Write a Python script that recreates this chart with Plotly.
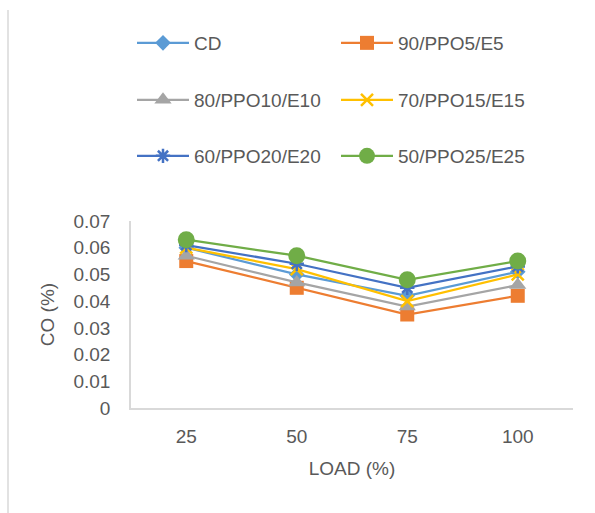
import plotly.graph_objects as go

# Engine load categories and CO emissions (%) for each fuel blend
load = ["25", "50", "75", "100"]
cd = [0.060, 0.050, 0.042, 0.051]
b90_ppo5_e5 = [0.055, 0.045, 0.035, 0.042]
b80_ppo10_e10 = [0.057, 0.047, 0.038, 0.046]
b70_ppo15_e15 = [0.060, 0.052, 0.040, 0.050]
b60_ppo20_e20 = [0.061, 0.054, 0.045, 0.053]
b50_ppo25_e25 = [0.063, 0.057, 0.048, 0.055]

y_ticks = [0, 0.01, 0.02, 0.03, 0.04, 0.05, 0.06, 0.07]
y_tick_text = ["0", "0.01", "0.02", "0.03", "0.04", "0.05", "0.06", "0.07"]

W, H = 595, 513
ML, MR, MT, MB = 131, 22, 221, 105
PW, PH = W - ML - MR, H - MT - MB

FONT = "Liberation Sans"
TXT = "#595959"
AXIS = "#D9D9D9"


def px_x(x):
    return (x - ML) / PW


def px_y(y):
    return (H - MB - y) / PH


series = [
    ("CD", cd, "#5B9BD5", "diamond", 12, "legend"),
    ("90/PPO5/E5", b90_ppo5_e5, "#ED7D31", "square", 14, "legend"),
    ("80/PPO10/E10", b80_ppo10_e10, "#A5A5A5", "triangle-up", 15, "legend2"),
    ("70/PPO15/E15", b70_ppo15_e15, "#FFC000", "x-thin-open", 12, "legend2"),
    ("60/PPO20/E20", b60_ppo20_e20, "#4472C4", "asterisk-open", 12, "legend3"),
    ("50/PPO25/E25", b50_ppo25_e25, "#70AD47", "circle", 17, "legend3"),
]

fig = go.Figure()
for name, vals, color, symbol, size, leg in series:
    open_sym = symbol.endswith("open")
    fig.add_trace(go.Scatter(
        x=load, y=vals, name=name, mode="lines+markers",
        line=dict(color=color, width=2.25),
        marker=dict(symbol=symbol, size=size, color=color,
                    line=dict(color=color, width=2.5 if open_sym else 0)),
        legend=leg,
    ))

legend_common = dict(
    orientation="h", xanchor="left", yanchor="middle",
    font=dict(family=FONT, size=19, color=TXT),
    itemwidth=52, entrywidth=137, bgcolor="rgba(0,0,0,0)",
    itemclick=False, itemdoubleclick=False,
)

fig.update_layout(
    width=W, height=H,
    margin=dict(l=ML, r=MR, t=MT, b=MB),
    paper_bgcolor="white", plot_bgcolor="white",
    font=dict(family=FONT, size=19, color=TXT),
    showlegend=True,
    legend=dict(x=px_x(132), y=px_y(43), **legend_common),
    legend2=dict(x=px_x(132), y=px_y(100), **legend_common),
    legend3=dict(x=px_x(132), y=px_y(156), **legend_common),
    xaxis=dict(
        range=[-0.5, 3.5],
        showgrid=False, zeroline=False, showline=True, linecolor=AXIS, linewidth=1.5,
        ticks="", ticklabelstandoff=10,
        tickfont=dict(family=FONT, size=19, color=TXT),
        title=dict(text="LOAD (%)", font=dict(family=FONT, size=19, color=TXT), standoff=16),
    ),
    yaxis=dict(
        range=[0, 0.07], showgrid=False, zeroline=False, showline=True,
        linecolor=AXIS, linewidth=1.5, ticks="", ticklabelstandoff=15,
        tickvals=y_ticks, ticktext=y_tick_text,
        tickfont=dict(family=FONT, size=19, color=TXT),
        title=dict(text="CO (%)", font=dict(family=FONT, size=19, color=TXT), standoff=14),
    ),
    shapes=[dict(type="line", xref="paper", yref="paper",
                 x0=px_x(8), x1=px_x(8), y0=px_y(10), y1=px_y(H),
                 line=dict(color=AXIS, width=1.5))],
)

fig.write_html("out.html")
